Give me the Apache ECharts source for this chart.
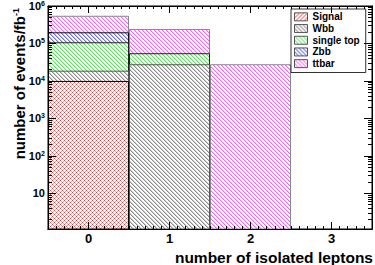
<!DOCTYPE html>
<html>
<head>
<meta charset="utf-8">
<script src="https://cdn.jsdelivr.net/npm/echarts@6/dist/echarts.min.js"></script>
<style>html,body{margin:0;padding:0;background:#fff}#c{width:375px;height:265px}</style>
</head>
<body>
<div id="c"></div>
<script>
// ---- data ----
const categories = ['0', '1', '2', '3'];
const seriesNames = ['Signal', 'Wbb', 'single top', 'Zbb', 'ttbar'];
const signal    = [1.0e4, null, null, null];
const wbb       = [8.8e3, 2.79e4, null, null];
const singleTop = [8.9e4, 2.7e4, null, null];
const zbb       = [9.1e4, null, null, null];
const ttbar     = [3.5e5, 1.89e5, 2.79e4, null];
const xTickValues = [0, 1, 2, 3];
const yTickValues = [10, 100, 1e3, 1e4, 1e5, 1e6];
const yMin = 1.12, yMax = 1e6;

// stacked (cumulative) table built from the arrays above, like a THStack
const layers = [signal, wbb, singleTop, zbb, ttbar];
const running = categories.map(() => 0);
const cumulative = layers.map(arr => arr.map((v, i) => {
  if (v === null) return null;
  running[i] += v;
  return running[i];
}));

// minor tick positions (axis decoration only)
const xMinor = [];
for (let i = -4; i <= 34; i++) { if (i % 10 !== 0) xMinor.push(i / 10); }
const yMinor = [];
for (let e = 0; e < 6; e++) for (let m = 2; m <= 9; m++) yMinor.push(m * Math.pow(10, e));

// ---- hatch patterns ----
function hatch(strong, light, mode) {
  const n = 4;
  const c = document.createElement('canvas');
  c.width = n; c.height = n;
  const ctx = c.getContext('2d');
  ctx.fillStyle = '#fff'; ctx.fillRect(0, 0, n, n);
  for (let x = 0; x < n; x++) for (let y = 0; y < n; y++) {
    const b = ((x - y) % n + n) % n;   // "\" direction
    const f = (x + y) % n;              // "/" direction
    let col = null;
    if (mode === 'back') { if (b === 0) col = strong; else if (b === 1) col = light; }
    else if (mode === 'fwd') { if (f === 0) col = strong; else if (f === 1) col = light; }
    else { if (b === 0 && f === 0) col = strong; else if (b === 0 || f === 0) col = light; }
    if (col) { ctx.fillStyle = col; ctx.fillRect(x, y, 1, 1); }
  }
  return { image: c.toDataURL(), repeat: 'repeat', imageWidth: n, imageHeight: n };
}
const patterns = [
  hatch('#d04848', '#f2a0a0', 'cross'),
  hatch('#8a8a8a', '#cfcfcf', 'back'),
  hatch('#62e062', '#bff5bf', 'back'),
  hatch('#6a6ae6', '#c2c2f5', 'back'),
  hatch('#ee6cee', '#f8c4f8', 'back')
];
const borders = ['#000', '#555', '#222', '#111', '#888'];
const patSignalLeg = hatch('#f06c6c', '#f8c4c4', 'fwd');

const FONT = 'Liberation Sans, Arial, Helvetica, sans-serif';
const chart = echarts.init(document.getElementById('c'), null, { renderer: 'svg', width: 375, height: 265 });

function tickAxisX(pos, values, len, labels) {
  return {
    type: 'value', min: -0.5, max: 3.5, position: pos, z: 5,
    axisLine: { show: true, onZero: false, lineStyle: { color: '#000', width: 1 } },
    splitLine: { show: false },
    axisTick: { show: true, inside: true, length: len, customValues: values, lineStyle: { color: '#000', width: 1 } },
    axisLabel: labels ? { show: true, customValues: xTickValues, fontSize: 13, fontWeight: 'bold', fontFamily: FONT, color: '#000', margin: 3 } : { show: false }
  };
}
function tickAxisY(pos, values, len, labels) {
  return {
    type: 'log', logBase: 10, min: yMin, max: yMax, position: pos, z: 5,
    axisLine: { show: true, onZero: false, lineStyle: { color: '#000', width: 1 } },
    splitLine: { show: false },
    axisTick: { show: true, inside: true, length: len, customValues: values, lineStyle: { color: '#000', width: 1 } },
    axisLabel: labels ? {
      show: true, customValues: yTickValues, margin: 3, color: '#000',
      fontSize: 11, fontWeight: 'bold', fontFamily: FONT,
      formatter: v => { const e = Math.round(Math.log10(v)); return e === 1 ? '10' : '10{s|' + e + '}'; },
      rich: { s: { fontSize: 7, fontWeight: 'bold', fontFamily: FONT, color: '#000', verticalAlign: 'top', padding: [0, 0, 5, 0] } }
    } : { show: false }
  };
}

// draw from the top of the stack down, so lower layers overlay the totals
const series = [];
for (let k = layers.length - 1; k >= 0; k--) {
  series.push({
    name: seriesNames[k], type: 'bar', data: cumulative[k],
    xAxisIndex: 0, yAxisIndex: 0,
    barCategoryGap: '0%', barGap: '-100%',
    itemStyle: { color: patterns[k], borderColor: borders[k], borderWidth: 1 },
    emphasis: { disabled: true },
    animation: false
  });
}

chart.setOption({
  animation: false,
  backgroundColor: '#fff',
  grid: { left: 48, top: 6, width: 324, height: 223, show: true, borderColor: '#000', borderWidth: 1, backgroundColor: '#fff' },
  xAxis: [
    { type: 'category', data: categories, show: false, boundaryGap: true },
    tickAxisX('bottom', xTickValues, 7, true),
    tickAxisX('bottom', xMinor, 3, false),
    tickAxisX('top', xTickValues, 7, false),
    tickAxisX('top', xMinor, 3, false)
  ],
  yAxis: [
    tickAxisY('left', yTickValues, 8, true),
    tickAxisY('left', yMinor, 4, false),
    tickAxisY('right', yTickValues, 8, false),
    tickAxisY('right', yMinor, 4, false)
  ],
  legend: {
    orient: 'vertical', left: 291, top: 9,
    backgroundColor: '#fff', borderColor: '#333', borderWidth: 1,
    padding: [2, 6, 3, 3], itemGap: 0, itemWidth: 13, itemHeight: 8, icon: 'rect',
    selectedMode: false,
    textStyle: { fontSize: 10, fontWeight: 'bold', fontFamily: FONT, color: '#000', lineHeight: 11.7 },
    itemStyle: { borderWidth: 1 },
    data: [
      { name: 'Signal', itemStyle: { color: patSignalLeg, borderColor: '#555' } },
      { name: 'Wbb', itemStyle: { borderColor: '#555' } },
      { name: 'single top', itemStyle: { borderColor: '#555' } },
      { name: 'Zbb', itemStyle: { borderColor: '#555' } },
      { name: 'ttbar', itemStyle: { borderColor: '#555' } }
    ]
  },
  graphic: [
    { type: 'text', x: 19, y: 8, rotation: Math.PI / 2, z: 10,
      style: { text: 'number of events/fb{s|-1}', fontSize: 15, fontWeight: 'bold', fontFamily: FONT, fill: '#000', align: 'right', verticalAlign: 'middle',
        rich: { s: { fontSize: 9, fontWeight: 'bold', fontFamily: FONT, fill: '#000', verticalAlign: 'top', padding: [0, 0, 7, 0] } } } },
    { type: 'text', x: 373, y: 257, z: 10,
      style: { text: 'number of isolated leptons', fontSize: 15.5, fontWeight: 'bold', fontFamily: FONT, fill: '#000', align: 'right', verticalAlign: 'middle' } }
  ],
  series
});
</script>
</body>
</html>
